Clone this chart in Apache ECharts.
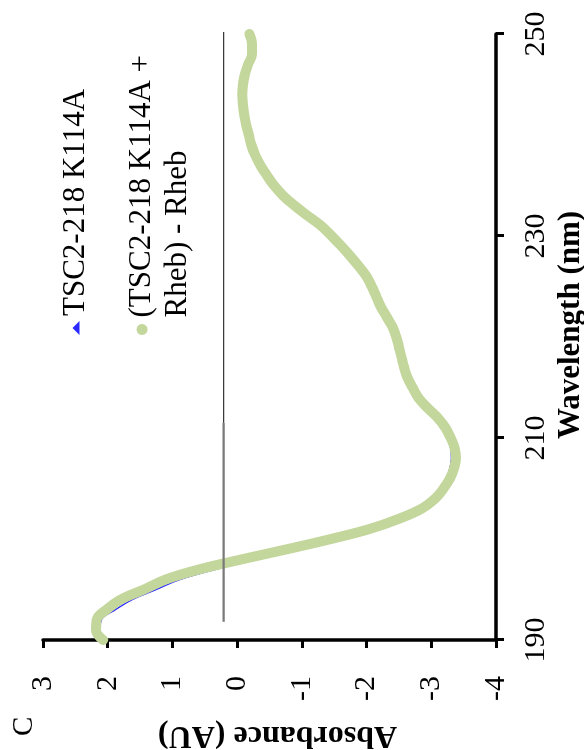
<!DOCTYPE html>
<html>
<head>
<meta charset="utf-8">
<script src="https://cdn.jsdelivr.net/npm/echarts@6/dist/echarts.min.js"></script>
<style>
  html, body { margin: 0; padding: 0; background: #fff; }
  #frame { position: relative; width: 584px; height: 750px; overflow: hidden; background: #fff; }
  /* The plot is laid out landscape and turned a quarter turn counter-clockwise onto the page. */
  #chart { position: absolute; left: 0; top: 0; width: 750px; height: 584px;
           transform-origin: 0 0; transform: translateY(750px) rotate(-90deg); }
</style>
</head>
<body>
<div id="frame"><div id="chart"></div></div>
<script>
// Wavelength grid (nm)
const wavelengths = [
  190, 191, 192, 193, 194, 195, 196, 197, 198, 199,
  200, 201, 202, 203, 204, 205, 206, 207, 208, 209,
  210, 211, 212, 213, 214, 215, 216, 217, 218, 219,
  220, 221, 222, 223, 224, 225, 226, 227, 228, 229,
  230, 231, 232, 233, 234, 235, 236, 237, 238, 239,
  240, 241, 242, 243, 244, 245, 246, 247, 248, 249,
  250
];

const seriesNames = ['TSC2-218 K114A', '(TSC2-218 K114A + Rheb) - Rheb'];

// TSC2-218 K114A alone
const k114aSignal = [
  2.05, 2.12, 2.10, 1.88, 1.62, 1.25, 0.88, 0.33, -0.30, -0.98,
  -1.62, -2.18, -2.57, -2.86, -3.02, -3.13, -3.23, -3.29, -3.31, -3.30,
  -3.25, -3.17, -3.05, -2.89, -2.75, -2.66, -2.58, -2.53, -2.49, -2.46,
  -2.42, -2.36, -2.27, -2.18, -2.11, -2.04, -1.96, -1.84, -1.71, -1.57,
  -1.42, -1.26, -1.06, -0.86, -0.68, -0.54, -0.43, -0.33, -0.25, -0.19,
  -0.15, -0.11, -0.08, -0.06, -0.05, -0.06, -0.09, -0.14, -0.20, -0.21,
  -0.18
];

// Complex minus Rheb difference spectrum
const differenceSignal = [
  2.07, 2.18, 2.17, 2.02, 1.80, 1.44, 1.10, 0.58, -0.08, -0.78,
  -1.45, -2.05, -2.50, -2.85, -3.06, -3.19, -3.29, -3.35, -3.38, -3.36,
  -3.30, -3.22, -3.10, -2.94, -2.80, -2.71, -2.63, -2.58, -2.54, -2.50,
  -2.46, -2.40, -2.31, -2.22, -2.15, -2.08, -2.00, -1.88, -1.75, -1.61,
  -1.46, -1.30, -1.09, -0.89, -0.71, -0.57, -0.46, -0.36, -0.28, -0.22,
  -0.18, -0.14, -0.11, -0.09, -0.08, -0.09, -0.12, -0.17, -0.23, -0.23,
  -0.19
];

// Reference baseline drawn across the spectrum
const baselineLevel = 0.21;
const baselineLowerSpan = [191.8, 211.5];
const baselineUpperSpan = [211.5, 250.8];

// Axis ticks
const wavelengthTicks = [190, 210, 230, 250];
const absorbanceMin = -4;
const absorbanceMax = 3;
const absorbanceStep = 1;

const SERIF = '"Liberation Serif", "Times New Roman", Times, serif';
const pair = (xs, ys) => xs.map((x, i) => [x, ys[i]]);

const chart = echarts.init(document.getElementById('chart'), null, { renderer: 'canvas' });

chart.setOption({
  animation: false,
  backgroundColor: '#fff',
  textStyle: { fontFamily: SERIF, color: '#000' },
  grid: { left: 110, right: 34, top: 43, bottom: 88, containLabel: false, outerBoundsMode: 'none' },
  graphic: [
    { type: 'text', left: 14, top: 10,
      style: { text: 'C', font: '29px ' + SERIF, fill: '#000' } }
  ],
  legend: [
    {
      data: [{ name: seriesNames[0], icon: 'triangle' }],
      left: 415, top: 58, padding: 0,
      itemWidth: 14, itemHeight: 7,
      selectedMode: false,
      textStyle: { fontFamily: SERIF, fontSize: 31, lineHeight: 36, color: '#000' }
    },
    {
      // leading empty line keeps the marker level with the first text line
      data: [{ name: seriesNames[1], icon: 'circle' }],
      left: 415, top: 88, padding: 0,
      itemWidth: 14, itemHeight: 11,
      selectedMode: false,
      formatter: name => '\n' + name.replace('+ ', '+\n'),
      textStyle: { fontFamily: SERIF, fontSize: 31, lineHeight: 36, color: '#000' }
    }
  ],
  xAxis: {
    type: 'value',
    min: wavelengthTicks[0],
    max: wavelengthTicks[wavelengthTicks.length - 1],
    position: 'bottom',
    axisLine: { onZero: false, lineStyle: { color: '#000', width: 3.5 } },
    axisTick: { customValues: wavelengthTicks, length: 8, lineStyle: { color: '#000', width: 3 } },
    axisLabel: { customValues: wavelengthTicks, margin: 25, fontSize: 30,
                 fontFamily: SERIF, color: '#000' },
    splitLine: { show: false },
    name: 'Wavelength (nm)',
    nameLocation: 'middle',
    nameGap: 48,
    nameTextStyle: { fontFamily: SERIF, fontSize: 31, fontWeight: 'bold', color: '#000',
                     padding: [0, 0, 0, 24] }
  },
  yAxis: {
    type: 'value',
    min: absorbanceMin,
    max: absorbanceMax,
    interval: absorbanceStep,
    position: 'left',
    axisLine: { show: true, onZero: false, lineStyle: { color: '#000', width: 3.5 } },
    axisTick: { show: true, length: 8, lineStyle: { color: '#000', width: 3 } },
    axisLabel: { margin: 36, fontSize: 30, fontFamily: SERIF, color: '#000' },
    splitLine: { show: false },
    name: 'Absorbance (AU)',
    nameLocation: 'middle',
    nameRotate: 90,
    nameGap: 79,
    nameTextStyle: { fontFamily: SERIF, fontSize: 32, fontWeight: 'bold', color: '#000',
                     padding: [0, 16, 0, 0] }
  },
  series: [
    {
      name: seriesNames[0],
      type: 'line',
      data: pair(wavelengths, k114aSignal),
      smooth: 0.4,
      showSymbol: false,
      silent: true,
      itemStyle: { color: '#2a2aff' },
      lineStyle: { color: '#2a2aff', width: 1.4 },
      z: 2
    },
    {
      name: seriesNames[1],
      type: 'line',
      data: pair(wavelengths, differenceSignal),
      smooth: 0.4,
      showSymbol: false,
      silent: true,
      itemStyle: { color: '#c3d69b' },
      lineStyle: { color: '#c3d69b', width: 10, cap: 'round', join: 'round' },
      z: 3
    },
    {
      name: 'baseline-lower',
      type: 'line',
      data: baselineLowerSpan.map(x => [x, baselineLevel]),
      showSymbol: false,
      silent: true,
      clip: false,
      lineStyle: { color: '#7a7a7a', width: 2.2 },
      z: 4
    },
    {
      name: 'baseline-upper',
      type: 'line',
      data: baselineUpperSpan.map(x => [x, baselineLevel]),
      showSymbol: false,
      silent: true,
      clip: false,
      lineStyle: { color: '#3a3a3a', width: 1.3 },
      z: 4
    }
  ]
});
</script>
</body>
</html>
